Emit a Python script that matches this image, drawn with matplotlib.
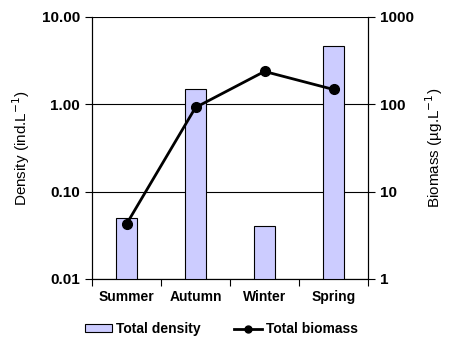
import numpy as np
import matplotlib.pyplot as plt
from matplotlib.ticker import FixedLocator, NullLocator
from matplotlib.patches import Patch
from matplotlib.lines import Line2D

plt.rcParams['font.family'] = ['Liberation Sans', 'DejaVu Sans']

seasons = ['Summer', 'Autumn', 'Winter', 'Spring']
density = [0.05, 1.48, 0.040, 4.6]
biomass = [4.25, 92, 238, 148]
left_ticks = [0.01, 0.1, 1, 10]
left_labels = ['0.01', '0.10', '1.00', '10.00']
right_ticks = [1, 10, 100, 1000]
right_labels = ['1', '10', '100', '1000']

fig = plt.figure(figsize=(4.49, 3.51), dpi=100)
ax = fig.add_axes([92 / 449, 1 - 279 / 351, (368 - 92) / 449, (279 - 17) / 351])
x = np.arange(len(seasons))

bar_color = '#ccccff'
ax.bar(x, density, width=0.29, color=bar_color, edgecolor='black', linewidth=0.8, zorder=3)
ax.set_yscale('log')
ax.set_ylim(0.01, 10)
ax.set_xlim(-0.5, len(seasons) - 0.5)
ax.yaxis.set_major_locator(FixedLocator(left_ticks))
ax.yaxis.set_minor_locator(NullLocator())
ax.set_yticklabels(left_labels, fontsize=11, fontweight='bold')
ax.grid(axis='y', color='black', linewidth=0.8, zorder=0)
ax.set_ylabel('Density (ind.L$^{-1}$)', fontsize=11, labelpad=7)

# category boundary ticks, labels in the middle
ax.set_xticks(np.arange(-0.5, len(seasons), 1))
ax.set_xticklabels([])
ax.set_xticks(x, minor=True)
ax.set_xticklabels(seasons, minor=True, fontsize=10, fontweight='bold')
ax.tick_params(axis='x', which='minor', length=0, pad=8)
ax.tick_params(axis='x', which='major', length=5, direction='out', width=0.8)
ax.tick_params(axis='y', length=5, direction='out', width=0.8)
ax.spines['top'].set_visible(False)

ax2 = ax.twinx()
ax2.plot(x, biomass, color='black', linewidth=2, marker='o', markersize=7, zorder=4)
ax2.set_yscale('log')
ax2.set_ylim(1, 1000)
ax2.yaxis.set_major_locator(FixedLocator(right_ticks))
ax2.yaxis.set_minor_locator(NullLocator())
ax2.set_yticklabels(right_labels, fontsize=11, fontweight='bold')
ax2.tick_params(axis='y', length=5, direction='out', width=0.8)
ax2.set_ylabel('Biomass (µg.L$^{-1}$)', fontsize=11, labelpad=7)
ax2.spines['top'].set_visible(False)

handles = [Patch(facecolor=bar_color, edgecolor='black', linewidth=0.8),
           Line2D([], [], color='black', linewidth=2, marker='o', markersize=5)]
fig.legend(handles, ['Total density', 'Total biomass'], loc='center left', ncol=2,
           frameon=False, bbox_to_anchor=(72 / 449, 1 - 329 / 351),
           prop={'weight': 'bold', 'size': 10}, columnspacing=2.4,
           handlelength=2.0, handleheight=0.5, handletextpad=0.3)

fig.savefig('out.png', dpi=100)
